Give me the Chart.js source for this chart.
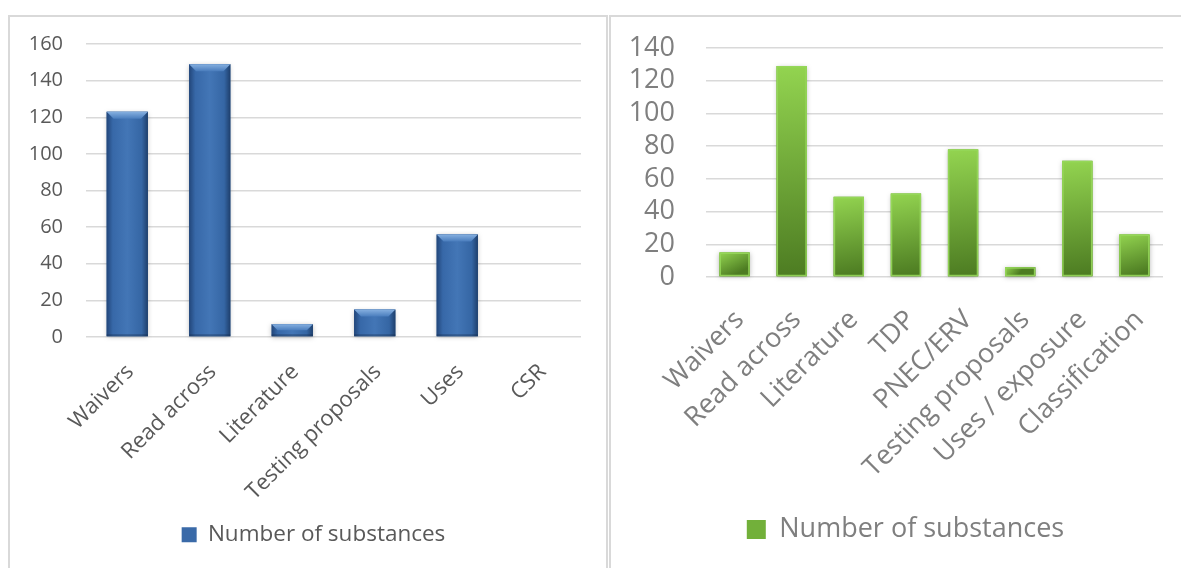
<!DOCTYPE html>
<html>
<head>
<meta charset="utf-8">
<script src="https://cdn.jsdelivr.net/npm/chart.js@4/dist/chart.umd.min.js"></script>
<style>
  body { margin: 0; background: #fff; overflow: hidden; }
  .box { position: absolute; border: 2px solid #d9d9d9; }
  #leftBox { left: 8px; top: 15px; width: 596px; height: 551px; }
  #rightBox { left: 609px; top: 15px; width: 580px; height: 551px; }
</style>
</head>
<body>
<div class="box" id="leftBox"><canvas id="leftChart"></canvas></div>
<div class="box" id="rightBox"><canvas id="rightChart"></canvas></div>
<script>
// Left chart data
const leftLabels = ['Waivers', 'Read across', 'Literature', 'Testing proposals', 'Uses', 'CSR'];
const leftValues = [123, 149, 7, 15, 56, 0];
const leftMax = 160;

// Right chart data
const rightLabels = ['Waivers', 'Read across', 'Literature', 'TDP', 'PNEC/ERV', 'Testing proposals', 'Uses / exposure', 'Classification'];
const rightValues = [15, 129, 49, 51, 78, 6, 71, 26];
const rightMax = 140;

const seriesName = 'Number of substances';
const fontFamily = '"Open Sans", sans-serif';

// paints each bar with an office-like gradient on top of the plain bar
const barShade = {
  id: 'barShade',
  afterDatasetsDraw(chart, args, opts) {
    const ctx = chart.ctx;
    chart.getDatasetMeta(0).data.forEach(bar => {
      const p = bar.getProps(['x', 'y', 'base', 'width'], true);
      const h = p.base - p.y;
      if (h <= 0.5) return;
      const l = p.x - p.width / 2, w = p.width;
      ctx.save();
      ctx.shadowColor = 'rgba(0,0,0,0.28)';
      ctx.shadowBlur = 5;
      ctx.shadowOffsetY = 1;
      if (opts.style === 'blue') {
        const g = ctx.createLinearGradient(l, 0, l + w, 0);
        g.addColorStop(0, '#22467a');
        g.addColorStop(0.15, '#3768a8');
        g.addColorStop(0.5, '#4376b6');
        g.addColorStop(0.85, '#3566a4');
        g.addColorStop(1, '#1e3f6c');
        ctx.fillStyle = g;
        ctx.fillRect(l, p.y, w, h);
        ctx.restore();
        // top bevel
        ctx.save();
        const b = Math.min(7, h / 2);
        const gb = ctx.createLinearGradient(0, p.y, 0, p.y + b);
        gb.addColorStop(0, '#86b0e0');
        gb.addColorStop(1, '#4a7dbd');
        ctx.fillStyle = gb;
        ctx.beginPath();
        ctx.moveTo(l, p.y);
        ctx.lineTo(l + w, p.y);
        ctx.lineTo(l + w - b, p.y + b);
        ctx.lineTo(l + b, p.y + b);
        ctx.closePath();
        ctx.fill();
        // bottom darker edge
        ctx.fillStyle = 'rgba(20,40,70,0.35)';
        ctx.fillRect(l, p.base - 2, w, 2);
      } else {
        const g = ctx.createLinearGradient(l, p.y, l + w * 0.4, p.base);
        g.addColorStop(0, '#93d450');
        g.addColorStop(1, '#4d7c22');
        ctx.fillStyle = g;
        ctx.fillRect(l, p.y, w, h);
        ctx.restore();
        ctx.save();
        ctx.strokeStyle = 'rgba(150,215,90,0.9)';
        ctx.lineWidth = 1.5;
        ctx.strokeRect(l + 0.75, p.y + 0.75, w - 1.5, h - 1.5);
      }
      ctx.restore();
    });
  }
};

// nudges the legend sideways (Excel centres it a bit right of the canvas centre)
const legendShift = {
  id: 'legendShift',
  afterLayout(chart, args, opts) {
    if (!chart.legend || !opts.dx) return;
    chart.legend.left += opts.dx;
    chart.legend.right += opts.dx;
  }
};

function makeChart(id, labels, values, cfg) {
  const ctx = document.getElementById(id).getContext('2d');
  return new Chart(ctx, {
    type: 'bar',
    data: {
      labels: labels,
      datasets: [{
        label: seriesName,
        data: values,
        backgroundColor: cfg.color,
        borderWidth: 0,
        categoryPercentage: 1,
        barPercentage: cfg.barPct
      }]
    },
    options: {
      responsive: true,
      maintainAspectRatio: false,
      animation: false,
      layout: { padding: cfg.padding },
      scales: {
        y: {
          min: 0,
          max: cfg.max,
          ticks: {
            stepSize: 20,
            autoSkip: false,
            color: cfg.textColor,
            font: { family: fontFamily, size: cfg.tickSize, lineHeight: 1 },
            padding: 0
          },
          // invisible tick marks give the gap between labels and plot
          grid: { color: '#d9d9d9', lineWidth: 1.5, drawTicks: true, tickLength: cfg.yGap, tickColor: 'rgba(0,0,0,0)' },
          border: { display: false },
          afterFit: s => { s.width = cfg.yWidth; }
        },
        x: {
          ticks: {
            color: cfg.textColor,
            font: { family: fontFamily, size: cfg.catSize, lineHeight: 1.2 },
            minRotation: 45,
            maxRotation: 45,
            autoSkip: false,
            padding: 2,
            labelOffset: cfg.xShift
          },
          grid: { display: false, drawTicks: true, tickLength: cfg.xGap },
          border: { display: false },
          afterFit: s => { s.height = cfg.xHeight; }
        }
      },
      plugins: {
        legend: {
          position: 'bottom',
          labels: {
            color: cfg.textColor,
            font: { family: fontFamily, size: cfg.legendSize },
            boxWidth: cfg.legendBox,
            boxHeight: cfg.legendBox,
            padding: 10
          }
        },
        tooltip: { enabled: false },
        barShade: { style: cfg.style },
        legendShift: { dx: cfg.legendDx }
      }
    },
    plugins: [barShade, legendShift]
  });
}

makeChart('leftChart', leftLabels, leftValues, {
  color: '#3a6aa8', style: 'blue', barPct: 0.5, max: leftMax,
  textColor: '#595959', tickSize: 20, catSize: 22, legendSize: 22.5, legendBox: 15,
  yGap: 23, yWidth: 76, xHeight: 176.5, xGap: 20, xShift: 3, legendDx: 18,
  padding: { top: 27, right: 25, bottom: 12, left: 0 }
});

makeChart('rightChart', rightLabels, rightValues, {
  color: '#72b03a', style: 'green', barPct: 0.53, max: rightMax,
  textColor: '#7f7f7f', tickSize: 27, catSize: 27, legendSize: 27, legendBox: 19,
  yGap: 31, yWidth: 95, xHeight: 229, xGap: 25, xShift: 5, legendDx: 18.5,
  padding: { top: 31, right: 28, bottom: 15, left: 0 }
});
</script>
</body>
</html>
